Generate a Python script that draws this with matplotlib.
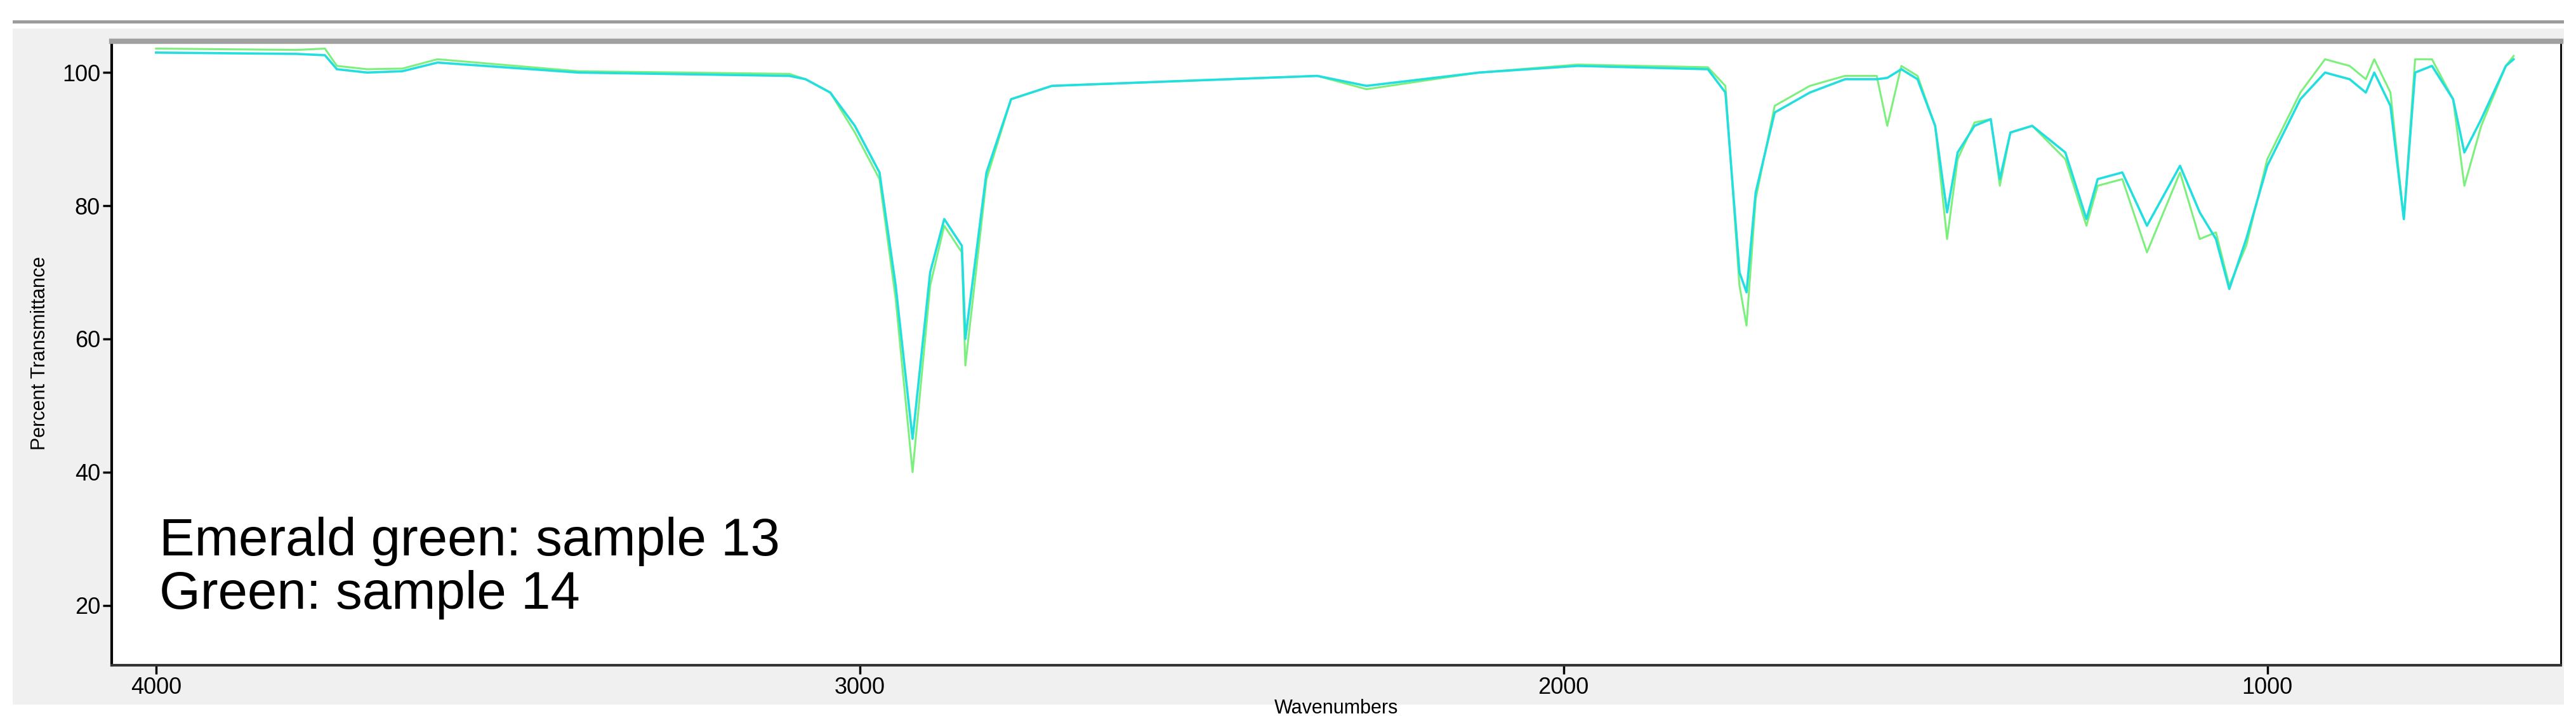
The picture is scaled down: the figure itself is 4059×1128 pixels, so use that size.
import numpy as np
import matplotlib.pyplot as plt

# ======================
# data
# ======================
wavenumber = [4000, 3800, 3760, 3743, 3700, 3650, 3600, 3400, 3100, 3077, 3042, 3007,
              2972, 2949, 2925, 2900, 2880, 2855, 2850, 2820, 2785, 2727, 2350, 2280,
              2120, 1980, 1795, 1770, 1750, 1740, 1727, 1700, 1650, 1600, 1555, 1540,
              1520, 1497, 1472, 1455, 1440, 1416, 1393, 1380, 1365, 1334, 1287, 1257,
              1241, 1206, 1171, 1124, 1096, 1073, 1054, 1030, 1000, 953, 918, 883,
              860, 848, 825, 806, 790, 766, 736, 720, 696, 661, 650]
sample_13 = [103.0, 102.8, 102.6, 100.5, 100.0, 100.2, 101.5, 100.0, 99.5, 99.0, 97.0, 92.0,
             85.0, 68.0, 45.0, 70.0, 78.0, 74.0, 60.0, 85.0, 96.0, 98.0, 99.5, 98.0,
             100.0, 101.0, 100.5, 97.0, 70.0, 67.0, 82.0, 94.0, 97.0, 99.0, 99.0, 99.2,
             100.5, 99.0, 92.0, 79.0, 88.0, 92.0, 93.0, 84.0, 91.0, 92.0, 88.0, 78.0,
             84.0, 85.0, 77.0, 86.0, 79.0, 75.0, 67.5, 75.0, 86.0, 96.0, 100.0, 99.0,
             97.0, 100.0, 95.0, 78.0, 100.0, 101.0, 96.0, 88.0, 93.0, 101.0, 102.0]
sample_14 = [103.6, 103.4, 103.6, 101.0, 100.5, 100.6, 102.0, 100.2, 99.8, 99.0, 97.0, 91.0,
             84.0, 66.0, 40.0, 68.0, 77.0, 73.0, 56.0, 84.0, 96.0, 98.0, 99.5, 97.5,
             100.0, 101.2, 100.8, 98.0, 68.0, 62.0, 81.0, 95.0, 98.0, 99.5, 99.5, 92.0,
             101.0, 99.5, 92.0, 75.0, 87.0, 92.5, 93.0, 83.0, 91.0, 92.0, 87.0, 77.0,
             83.0, 84.0, 73.0, 85.0, 75.0, 76.0, 68.0, 74.0, 87.0, 97.0, 102.0, 101.0,
             99.0, 102.0, 97.0, 78.0, 102.0, 102.0, 96.0, 83.0, 92.0, 101.0, 102.5]

y_ticks = [20, 40, 60, 80, 100]
x_ticks = [4000, 3000, 2000, 1000]
note_lines = ["Emerald green: sample 13", "Green: sample 14"]

# ======================
# figure
# ======================
W, H = 4059, 1128
fig = plt.figure(figsize=(W / 100, H / 100), dpi=100, facecolor="white")

# window background and top bar
fig.patches.append(plt.Rectangle((20 / W, 1 - 1110 / H), 4020 / W, 1065 / H,
                                 transform=fig.transFigure,
                                 facecolor="#f0f0f0", edgecolor="none", zorder=-3))
fig.patches.append(plt.Rectangle((20 / W, 1 - 37 / H), 4020 / W, 5 / H,
                                 transform=fig.transFigure,
                                 facecolor="#9c9c9c", edgecolor="none"))

ax = fig.add_axes([176 / W, 1 - 1048 / H, (4035 - 176) / W, (1048 - 65) / H])
ax.set_facecolor("white")

ax.plot(wavenumber, sample_14, color="#7cf07c", lw=2.2)
ax.plot(wavenumber, sample_13, color="#22dede", lw=2.6)

ax.set_xlim(4063, 583)
ax.set_ylim(11, 104.7)
ax.set_xticks(x_ticks)
ax.set_yticks(y_ticks)

tick_font = ["Liberation Sans Narrow", "Liberation Sans", "DejaVu Sans"]
for lab in ax.get_xticklabels() + ax.get_yticklabels():
    lab.set_family(tick_font)
    lab.set_fontsize(26)
ax.tick_params(length=10, width=2.5, pad=3)

for side in ["left", "bottom"]:
    ax.spines[side].set_linewidth(3)
ax.spines["top"].set_linewidth(6)
ax.spines["top"].set_color("#a0a0a0")
ax.spines["bottom"].set_color("#333333")
ax.spines["right"].set_linewidth(2)

ax.set_xlabel("Wavenumbers", fontsize=22, family=tick_font, labelpad=0)
ax.set_ylabel("Percent Transmittance", fontsize=22, family=tick_font, labelpad=14)

ax.text(3995, 27.5, note_lines[0], fontsize=60, family=["Liberation Sans", "DejaVu Sans"],
        ha="left", va="baseline")
ax.text(3995, 19.5, note_lines[1], fontsize=60, family=["Liberation Sans", "DejaVu Sans"],
        ha="left", va="baseline")

plt.savefig("out.png", dpi=100, facecolor=fig.get_facecolor())
plt.close()
